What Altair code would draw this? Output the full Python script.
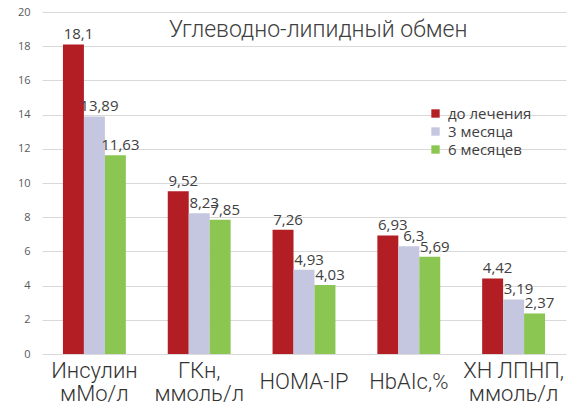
import altair as alt
import pandas as pd

# categories ('|' marks a line break in the axis label)
categories = ["Инсулин|мМо/л", "ГКн,|ммоль/л", "HOMA-IP", "HbAIc,%", "ХН ЛПНП,|ммоль/л"]
series = ["до лечения", "3 месяца", "6 месяцев"]
colors = ["#B21E23", "#C5C7E0", "#8BC653"]

before = [18.1, 9.52, 7.26, 6.93, 4.42]
month3 = [13.89, 8.23, 4.93, 6.3, 3.19]
month6 = [11.63, 7.85, 4.03, 5.69, 2.37]
y_ticks = list(range(0, 21, 2))

records = []
for s, vals in zip(series, [before, month3, month6]):
    for cat, v in zip(categories, vals):
        records.append({
            "cat": cat,
            "series": s,
            "value": v,
            "label": f"{v:g}".replace(".", ","),
        })
df = pd.DataFrame(records)
cat_df = pd.DataFrame({"cat": categories})

font = "Open Sans"
light_font = "Roboto"

x_enc = alt.X(
    "cat:N",
    sort=categories,
    title=None,
    scale=alt.Scale(paddingInner=0.4, paddingOuter=0.2),
    axis=alt.Axis(labels=False, ticks=False, domain=False, grid=False),
)

base = alt.Chart(df).encode(
    x=x_enc,
    xOffset=alt.XOffset("series:N", sort=series),
    y=alt.Y(
        "value:Q",
        title=None,
        scale=alt.Scale(domain=[0, 20], nice=False),
        axis=alt.Axis(
            values=y_ticks,
            labelFontSize=11,
            labelFont=font,
            labelColor="#595959",
            labelPadding=12,
            ticks=False,
            domain=False,
            gridColor="#D9D9D9",
        ),
    ),
)

bars = base.mark_bar().encode(
    color=alt.Color(
        "series:N",
        sort=series,
        scale=alt.Scale(domain=series, range=colors),
        legend=alt.Legend(
            title=None,
            orient="none",
            legendX=386,
            legendY=94,
            symbolType="square",
            symbolSize=70,
            symbolStrokeWidth=0,
            labelFontSize=15,
            labelFont=font,
            labelColor="#404040",
            rowPadding=2,
            labelOffset=5,
        ),
    )
)

text = base.mark_text(
    baseline="bottom",
    dy=-2,
    dx=5,
    fontSize=15,
    font=font,
    color="#404040",
).encode(text="label:N")

# category labels under the bars: two-line ones start higher so that
# single-line labels sit in the middle of the block
label_style = dict(
    fontSize=22,
    font=light_font,
    fontWeight=300,
    color="#333333",
    align="center",
    baseline="middle",
    lineBreak="|",
    lineHeight=23,
)
two_line = alt.Chart(cat_df).transform_filter(
    "indexof(datum.cat, '|') >= 0"
).mark_text(**label_style).encode(x=x_enc, y=alt.value(359), text="cat:N")

one_line = alt.Chart(cat_df).transform_filter(
    "indexof(datum.cat, '|') < 0"
).mark_text(**label_style).encode(x=x_enc, y=alt.value(370), text="cat:N")

title = alt.Chart(pd.DataFrame({"t": ["Углеводно-липидный обмен"]})).mark_text(
    fontSize=23,
    font=light_font,
    fontWeight=300,
    color="#404040",
    align="center",
    baseline="middle",
).encode(text="t:N", x=alt.value(276), y=alt.value(18))

chart = (
    alt.layer(bars, text, two_line, one_line, title)
    .properties(
        width=524,
        height=342,
        autosize=alt.AutoSizeParams(type="none"),
        padding={"left": 34, "top": 4, "right": 6, "bottom": 50},
        background="white",
    )
    .configure_view(stroke=None)
)

chart.save("out.html", embed_options={"renderer": "svg", "actions": False})
